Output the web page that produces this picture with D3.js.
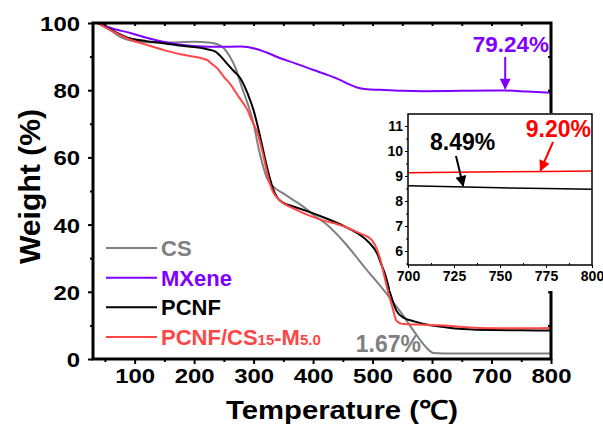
<!DOCTYPE html>
<html>
<head>
<meta charset="utf-8">
<script src="https://cdn.jsdelivr.net/npm/d3@7"></script>
<style>
  body { margin: 0; background: #fff; }
  svg { display: block; font-family: "Liberation Sans", Arial, sans-serif; font-weight: bold; }
</style>
</head>
<body>
<div class="vis-tga"></div>
<script>
// TGA curves
const csT = [38, 50, 60, 70, 80, 90, 100, 120, 150, 200, 225, 240, 250, 260, 270, 280, 290, 300, 308, 315, 322, 335, 350, 365, 380, 400, 423, 456, 488, 521, 547, 573, 590, 602, 620, 700, 800];
const csW = [100, 99, 97.8, 96.5, 95.5, 94.9, 94.6, 94.3, 94.2, 94.4, 94.2, 93.6, 92.5, 90, 86.5, 81, 76, 70, 63, 58, 54, 51, 49.3, 47.5, 45.8, 43, 40, 34, 27, 20, 14, 7.4, 3.5, 1.8, 1.67, 1.67, 1.67];

const mxT = [38, 60, 93, 120, 148, 175, 205, 240, 278, 306, 325, 345, 370, 401, 425, 446, 460, 474, 490, 512, 550, 586, 650, 723, 760, 800];
const mxW = [100, 98.5, 97, 95.6, 94.4, 93.6, 93.1, 92.9, 93, 92.2, 91, 89.5, 88, 86, 84.5, 83, 81.8, 80.8, 80.3, 80.1, 79.8, 79.7, 79.8, 79.9, 79.6, 79.24];

const pcT = [38, 60, 93, 120, 148, 180, 222, 236, 245, 255, 265, 278, 290, 300, 310, 320, 327, 333, 340, 350, 365, 390, 417, 456, 480, 495, 508, 515, 521, 530, 540, 553, 570, 586, 620, 651, 703, 750, 800];
const pcW = [100, 98, 95.4, 94.6, 94, 93.2, 92.2, 91.5, 90, 88, 86, 83.5, 79, 74, 67, 59, 54, 50.5, 48, 46.5, 45.5, 44, 42.2, 39.2, 36.8, 34.5, 31.3, 28, 25.3, 19.4, 14.4, 12.2, 11.2, 10.4, 9.5, 8.9, 8.6, 8.55, 8.49];

const cmT = [38, 60, 93, 120, 148, 180, 222, 230, 239, 250, 262, 275, 290, 297, 307, 317, 326, 332, 345, 365, 404, 456, 480, 488, 497, 504, 514, 520, 527, 534, 540, 547, 553, 586, 620, 651, 703, 750, 800];
const cmW = [100, 97.8, 95, 93.5, 92, 90.6, 89, 87.8, 86.5, 84, 81.5, 78, 74, 71, 67, 60, 53, 50, 47, 45, 42, 39.2, 37.3, 36.7, 35.7, 34, 29, 24.5, 19.4, 15, 11.4, 10.6, 10.4, 10.2, 10, 9.5, 9.15, 9.17, 9.2];

// inset (700-800 °C)
const insetT = [700, 725, 750, 775, 800];
const insetPcnf = [8.61, 8.57, 8.53, 8.5, 8.47];
const insetCm = [9.13, 9.15, 9.17, 9.18, 9.2];

const seriesNames = ['CS', 'MXene', 'PCNF', 'PCNF/CS15-M5.0'];
const xTicks = [100, 200, 300, 400, 500, 600, 700, 800];
const yTicks = [0, 20, 40, 60, 80, 100];
const insetXTicks = [700, 725, 750, 775, 800];
const insetYTicks = [6, 7, 8, 9, 10, 11];

const colors = {CS: '#808080', MXene: '#8000ff', PCNF: '#000000', 'PCNF/CS15-M5.0': '#ff4646'};

const W = 603, H = 432;
const plot = {left: 93, right: 551, top: 23, bottom: 359};
const font = '"Liberation Sans", Arial, sans-serif';

const svg = d3.select('.vis-tga').append('svg')
    .attr('width', W)
    .attr('height', H);

const defs = svg.append('defs');
defs.append('clipPath').attr('id', 'clip')
    .append('rect')
    .attr('x', plot.left).attr('y', plot.top)
    .attr('width', plot.right - plot.left).attr('height', plot.bottom - plot.top);

const x = d3.scaleLinear().domain([30, 800]).range([plot.left, plot.right]);
const y = d3.scaleLinear().domain([0, 100]).range([plot.bottom, plot.top]);

const line = d3.line()
    .x(d => x(d[0]))
    .y(d => y(d[1]))
    .curve(d3.curveMonotoneX);

const zip = (a, b) => a.map((v, i) => [v, b[i]]);
const series = [
    {name: 'CS', pts: zip(csT, csW)},
    {name: 'MXene', pts: zip(mxT, mxW)},
    {name: 'PCNF', pts: zip(pcT, pcW)},
    {name: 'PCNF/CS15-M5.0', pts: zip(cmT, cmW)},
];

// curves
svg.append('g').attr('clip-path', 'url(#clip)')
    .selectAll('path')
    .data(series)
    .enter().append('path')
    .attr('fill', 'none')
    .attr('stroke', d => colors[d.name])
    .attr('stroke-width', 2)
    .attr('d', d => line(d.pts));

// axes
const xAxis = svg.append('g')
    .attr('transform', 'translate(0,' + plot.bottom + ')')
    .call(d3.axisBottom(x).tickValues(xTicks).tickSize(5));
const xMinor = svg.append('g')
    .attr('transform', 'translate(0,' + plot.bottom + ')')
    .call(d3.axisBottom(x).tickValues([50, 150, 250, 350, 450, 550, 650, 750]).tickSize(3).tickFormat(''));
const yAxis = svg.append('g')
    .attr('transform', 'translate(' + plot.left + ',0)')
    .call(d3.axisLeft(y).tickValues(yTicks).tickSize(5));
const yMinor = svg.append('g')
    .attr('transform', 'translate(' + plot.left + ',0)')
    .call(d3.axisLeft(y).tickValues([10, 30, 50, 70, 90]).tickSize(3).tickFormat(''));
const xTop = svg.append('g')
    .attr('transform', 'translate(0,' + plot.top + ')')
    .call(d3.axisBottom(x).tickValues(d3.range(50, 800, 50)).tickSize(3).tickFormat(''));
const yRight = svg.append('g')
    .attr('transform', 'translate(' + plot.right + ',0)')
    .call(d3.axisLeft(y).tickValues(d3.range(10, 100, 10)).tickSize(3).tickFormat(''));

[xAxis, xMinor, yAxis, yMinor, xTop, yRight].forEach(g => {
    g.select('.domain').remove();
    g.selectAll('line').attr('stroke', '#000').attr('stroke-width', 2);
    g.selectAll('text').attr('fill', '#000').style('font-size', '21px').style('font-weight', 'bold')
        .style('font-family', font);
});
// the source figure is a little wider than tall: stretch tick labels sideways
xAxis.selectAll('text').attr('y', 24.5).attr('dy', 0).attr('transform', 'scale(1.14,1)');
yAxis.selectAll('text').attr('x', -13 / 1.14).attr('dy', '0.36em').attr('transform', 'scale(1.14,1)');

// frame
svg.append('rect')
    .attr('x', plot.left).attr('y', plot.top)
    .attr('width', plot.right - plot.left).attr('height', plot.bottom - plot.top)
    .attr('fill', 'none').attr('stroke', '#000').attr('stroke-width', 3);

// axis titles
svg.append('text')
    .attr('x', 226).attr('y', 419)
    .attr('textLength', 232).attr('lengthAdjust', 'spacingAndGlyphs')
    .style('font-size', '26px')
    .text('Temperature (℃)');
svg.append('text')
    .attr('transform', 'translate(40,' + 264 + ') rotate(-90)')
    .attr('textLength', 155).attr('lengthAdjust', 'spacingAndGlyphs')
    .style('font-size', '30px')
    .text('Weight (%)');

// legend
const legend = svg.append('g');
const legY = d3.scalePoint().domain(seriesNames).range([248, 337]);
legend.selectAll('line')
    .data(seriesNames)
    .enter().append('line')
    .attr('x1', 106).attr('x2', 157)
    .attr('y1', d => legY(d)).attr('y2', d => legY(d))
    .attr('stroke', d => colors[d]).attr('stroke-width', 2);
const legText = legend.selectAll('text')
    .data(seriesNames)
    .enter().append('text')
    .attr('x', 161).attr('y', d => legY(d) + 8)
    .attr('fill', d => colors[d])
    .style('font-size', '22px');
legText.each(function (d) {
    const t = d3.select(this);
    if (d === 'PCNF/CS15-M5.0') {
        t.append('tspan').text('PCNF/CS');
        t.append('tspan').style('font-size', '15px').text('15');
        t.append('tspan').text('-M');
        t.append('tspan').style('font-size', '15px').text('5.0');
    } else {
        t.text(d);
    }
});

// arrow markers
[['arrP', '#8000ff'], ['arrK', '#000'], ['arrR', '#ff0000']].forEach(([id, c]) => {
    defs.append('marker')
        .attr('id', id).attr('viewBox', '0 0 10 10')
        .attr('refX', 9).attr('refY', 5)
        .attr('markerWidth', 16).attr('markerHeight', 11)
        .attr('markerUnits', 'userSpaceOnUse')
        .attr('orient', 'auto')
        .append('path').attr('d', 'M0,0 L10,5 L0,10 Z').attr('fill', c);
});

// annotations on main plot
svg.append('text')
    .attr('x', 549).attr('y', 52).attr('text-anchor', 'end')
    .attr('fill', '#8000ff').style('font-size', '22.5px')
    .text('79.24%');
svg.append('line')
    .attr('x1', x(723)).attr('y1', 57).attr('x2', x(723)).attr('y2', y(79.9) - 2)
    .attr('stroke', '#8000ff').attr('stroke-width', 2).attr('marker-end', 'url(#arrP)');
svg.append('text')
    .attr('x', 421).attr('y', 352).attr('text-anchor', 'end')
    .attr('fill', '#808080').style('font-size', '23px')
    .text('1.67%');

// inset
const inset = {left: 408, right: 592, top: 114, bottom: 265};
const ix = d3.scaleLinear().domain([700, 800]).range([inset.left, inset.right]);
const iy = d3.scaleLinear().domain([5.44, 11.48]).range([inset.bottom, inset.top]);

svg.append('rect')
    .attr('x', 390).attr('y', inset.top - 1)
    .attr('width', W - 390).attr('height', 292 - inset.top)
    .attr('fill', '#fff');

const iLine = d3.line().x(d => ix(d[0])).y(d => iy(d[1]));
svg.append('path')
    .attr('fill', 'none').attr('stroke', '#000').attr('stroke-width', 1.5)
    .attr('d', iLine(zip(insetT, insetPcnf)));
svg.append('path')
    .attr('fill', 'none').attr('stroke', '#ff0000').attr('stroke-width', 1.5)
    .attr('d', iLine(zip(insetT, insetCm)));

const ixAxis = svg.append('g')
    .attr('transform', 'translate(0,' + inset.bottom + ')')
    .call(d3.axisBottom(ix).tickValues(insetXTicks).tickSize(3).tickPadding(3).tickFormat(d3.format('d')));
const ixMinor = svg.append('g')
    .attr('transform', 'translate(0,' + inset.bottom + ')')
    .call(d3.axisTop(ix).tickValues([712.5, 737.5, 762.5, 787.5]).tickSize(2).tickFormat(''));
const iyAxis = svg.append('g')
    .attr('transform', 'translate(' + inset.left + ',0)')
    .call(d3.axisLeft(iy).tickValues(insetYTicks).tickSize(3).tickPadding(2).tickFormat(d3.format('d')));
const iyMinor = svg.append('g')
    .attr('transform', 'translate(' + inset.left + ',0)')
    .call(d3.axisLeft(iy).tickValues([5.5, 6.5, 7.5, 8.5, 9.5, 10.5]).tickSize(2).tickFormat(''));
[ixAxis, ixMinor, iyAxis, iyMinor].forEach(g => {
    g.select('.domain').remove();
    g.selectAll('line').attr('stroke', '#000').attr('stroke-width', 1);
    g.selectAll('text').attr('fill', '#000').style('font-size', '14px').style('font-weight', 'bold')
        .style('font-family', font);
});
svg.append('rect')
    .attr('x', inset.left).attr('y', inset.top)
    .attr('width', inset.right - inset.left).attr('height', inset.bottom - inset.top)
    .attr('fill', 'none').attr('stroke', '#000').attr('stroke-width', 1.5);

svg.append('text')
    .attr('x', 430).attr('y', 150)
    .attr('fill', '#000').style('font-size', '23px')
    .text('8.49%');
svg.append('line')
    .attr('x1', 456).attr('y1', 156).attr('x2', ix(730)).attr('y2', iy(8.56) - 1)
    .attr('stroke', '#000').attr('stroke-width', 2).attr('marker-end', 'url(#arrK)');
svg.append('text')
    .attr('x', 591).attr('y', 137).attr('text-anchor', 'end')
    .attr('fill', '#ff0000').style('font-size', '23px')
    .text('9.20%');
svg.append('line')
    .attr('x1', 553).attr('y1', 142).attr('x2', ix(772)).attr('y2', iy(9.18) - 1)
    .attr('stroke', '#ff0000').attr('stroke-width', 2).attr('marker-end', 'url(#arrR)');
</script>
</body>
</html>
